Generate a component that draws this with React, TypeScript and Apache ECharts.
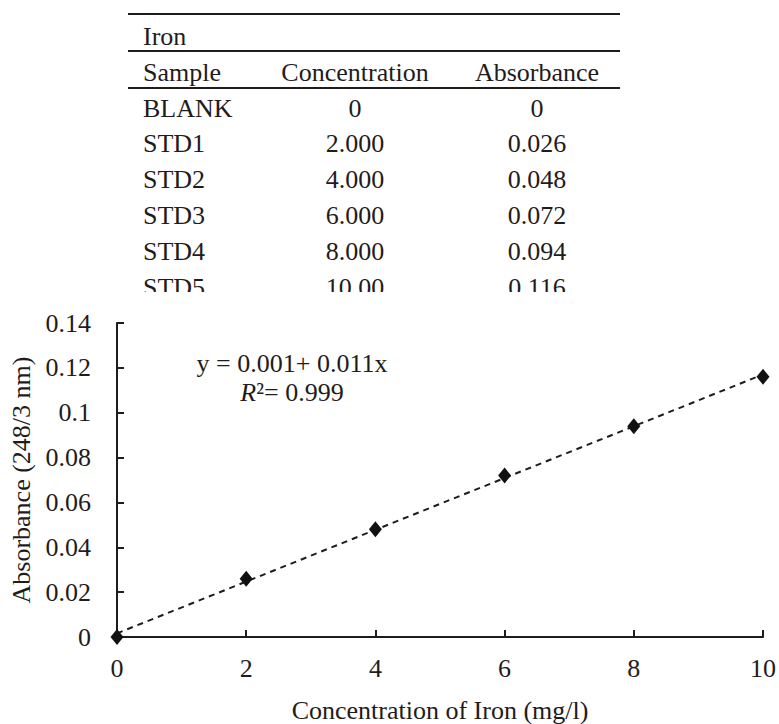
import React, { useEffect, useRef } from "react";
import * as echarts from "echarts";

const concentrations = [0, 2, 4, 6, 8, 10];
const absorbances = [0, 0.026, 0.048, 0.072, 0.094, 0.116];

const tableTitle = "Iron";
const tableHeaders = ["Sample", "Concentration", "Absorbance"];
const sampleNames = ["BLANK", "STD1", "STD2", "STD3", "STD4", "STD5"];
const concentrationLabels = ["0", "2.000", "4.000", "6.000", "8.000", "10.00"];
const absorbanceLabels = ["0", "0.026", "0.048", "0.072", "0.094", "0.116"];

const equationText = "y = 0.001+ 0.011x";
const r2Text = "0.999";

const xAxisTitle = "Concentration of Iron (mg/l)";
const yAxisTitle = "Absorbance (248/3 nm)";

const FONT = "Liberation Serif";
const INK = "#1f1c1c";

function fitLine(xs: number[], ys: number[]) {
  const n = xs.length;
  const mx = xs.reduce((a, b) => a + b, 0) / n;
  const my = ys.reduce((a, b) => a + b, 0) / n;
  let sxy = 0;
  let sxx = 0;
  for (let i = 0; i < n; i++) {
    sxy += (xs[i] - mx) * (ys[i] - my);
    sxx += (xs[i] - mx) * (xs[i] - mx);
  }
  const slope = sxy / sxx;
  return { slope, intercept: my - slope * mx };
}

export default function App() {
  const ref = useRef<HTMLDivElement>(null);

  useEffect(() => {
    if (!ref.current) return;
    const chart = echarts.init(ref.current, undefined, { renderer: "svg" });

    const fit = fitLine(concentrations, absorbances);
    const xMin = concentrations[0];
    const xMax = concentrations[concentrations.length - 1];
    const trend = [
      [xMin, fit.intercept + fit.slope * xMin],
      [xMax, fit.intercept + fit.slope * xMax],
    ];

    const tableLeft = 128;
    const tableRight = 620;
    const colSampleX = 143;
    const colConcX = 355;
    const colAbsX = 537;
    const rowTitleY = 36;
    const rowHeaderY = 72;
    const firstRowY = 108;
    const rowStep = 35.8;
    const tfs = 26;

    const txt = (text: string, x: number, y: number, align: string) => ({
      type: "text",
      x,
      y,
      z: 10,
      style: {
        text,
        fill: INK,
        fontFamily: FONT,
        fontSize: tfs,
        textAlign: align,
        textVerticalAlign: "middle",
      },
    });

    const graphics: any[] = [
      { type: "line", z: 10, shape: { x1: tableLeft, y1: 14, x2: tableRight, y2: 14 }, style: { stroke: INK, lineWidth: 2 } },
      { type: "line", z: 10, shape: { x1: tableLeft, y1: 51, x2: tableRight, y2: 51 }, style: { stroke: INK, lineWidth: 2 } },
      { type: "line", z: 10, shape: { x1: tableLeft, y1: 88, x2: tableRight, y2: 88 }, style: { stroke: INK, lineWidth: 2 } },
      txt(tableTitle, colSampleX, rowTitleY, "left"),
      txt(tableHeaders[0], colSampleX, rowHeaderY, "left"),
      txt(tableHeaders[1], colConcX, rowHeaderY, "center"),
      txt(tableHeaders[2], colAbsX, rowHeaderY, "center"),
    ];
    sampleNames.forEach((name, i) => {
      const y = firstRowY + i * rowStep;
      graphics.push(txt(name, colSampleX, y, "left"));
      graphics.push(txt(concentrationLabels[i], colConcX, y, "center"));
      graphics.push(txt(absorbanceLabels[i], colAbsX, y, "center"));
    });
    // clip bottom of last table row
    graphics.push({
      type: "rect",
      z: 20,
      shape: { x: 100, y: 292, width: 560, height: 16 },
      style: { fill: "#ffffff" },
    });
    // equation
    graphics.push({
      type: "text",
      x: 292,
      y: 363,
      z: 10,
      style: {
        text: equationText,
        fill: INK,
        fontFamily: FONT,
        fontSize: 26,
        textAlign: "center",
        textVerticalAlign: "middle",
      },
    });
    graphics.push({
      type: "text",
      x: 292,
      y: 392,
      z: 10,
      style: {
        text: `{i|R}{n|²= ${r2Text}}`,
        textAlign: "center",
        textVerticalAlign: "middle",
        rich: {
          i: { fontFamily: FONT, fontSize: 26, fontStyle: "italic", fill: INK },
          n: { fontFamily: FONT, fontSize: 26, fill: INK },
        },
      },
    });

    chart.setOption({
      animation: false,
      backgroundColor: "#ffffff",
      textStyle: { fontFamily: FONT, color: INK },
      grid: { left: 117, top: 323, right: 16, bottom: 87, containLabel: false },
      xAxis: {
        type: "value",
        min: 0,
        max: 10,
        interval: 2,
        name: xAxisTitle,
        nameLocation: "middle",
        nameGap: 60,
        nameTextStyle: { fontFamily: FONT, fontSize: 26, color: INK },
        axisLine: { show: true, lineStyle: { color: INK, width: 2 } },
        axisTick: { show: true, inside: true, length: 7, lineStyle: { color: INK, width: 2 } },
        axisLabel: { fontFamily: FONT, fontSize: 26, color: INK, margin: 18 },
        splitLine: { show: false },
      },
      yAxis: {
        type: "value",
        min: 0,
        max: 0.14,
        interval: 0.02,
        name: yAxisTitle,
        nameLocation: "middle",
        nameGap: 82,
        nameRotate: 90,
        nameTextStyle: { fontFamily: FONT, fontSize: 26, color: INK },
        axisLine: { show: true, lineStyle: { color: INK, width: 2 } },
        axisTick: { show: true, inside: true, length: 7, lineStyle: { color: INK, width: 2 } },
        axisLabel: {
          fontFamily: FONT,
          fontSize: 26,
          color: INK,
          margin: 26,
          formatter: (v: number) => String(+v.toFixed(2)),
        },
        splitLine: { show: false },
      },
      graphic: graphics,
      series: [
        {
          type: "line",
          data: trend,
          symbol: "none",
          silent: true,
          lineStyle: { color: INK, width: 2, type: [6, 5] },
          z: 2,
        },
        {
          type: "scatter",
          data: concentrations.map((c, i) => [c, absorbances[i]]),
          symbol: "diamond",
          symbolSize: [13, 16],
          itemStyle: { color: "#111111", opacity: 1 },
          z: 3,
        },
      ],
    });

    return () => chart.dispose();
  }, []);

  return (
    <div
      ref={ref}
      style={{ position: "fixed", left: 0, top: 0, width: 779, height: 724, background: "#fff" }}
    />
  );
}
